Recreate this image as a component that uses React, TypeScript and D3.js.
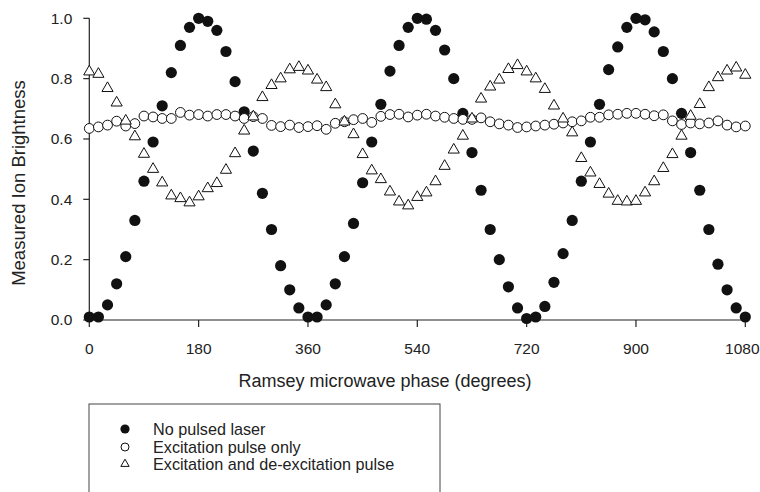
import * as d3 from 'd3';

// phase grid (degrees) of the measurement
const phases = [
  0, 15, 30, 45, 60, 75, 90, 105, 120, 135, 150, 165,
  180, 195, 210, 225, 240, 255, 270, 285, 300, 315, 330, 345,
  360, 375, 390, 405, 420, 435, 450, 465, 480, 495, 510, 525,
  540, 555, 570, 585, 600, 615, 630, 645, 660, 675, 690, 705,
  720, 735, 750, 765, 780, 795, 810, 825, 840, 855, 870, 885,
  900, 915, 930, 945, 960, 975, 990, 1005, 1020, 1035, 1050, 1065,
  1080,
];

const noPulsedLaser = [
  0.01, 0.01, 0.05, 0.12, 0.21, 0.33, 0.46, 0.59, 0.71, 0.82, 0.91, 0.97,
  1.0, 0.99, 0.96, 0.89, 0.79, 0.69, 0.56, 0.42, 0.3, 0.18, 0.1, 0.04,
  0.01, 0.01, 0.05, 0.12, 0.21, 0.32, 0.455, 0.59, 0.715, 0.825, 0.91, 0.97,
  1.0, 0.997, 0.96, 0.895, 0.8, 0.685, 0.555, 0.43, 0.3, 0.2, 0.11, 0.04,
  0.005, 0.01, 0.045, 0.125, 0.22, 0.33, 0.46, 0.59, 0.715, 0.83, 0.905, 0.97,
  1.0, 0.995, 0.955, 0.89, 0.8, 0.685, 0.555, 0.43, 0.3, 0.185, 0.1, 0.04,
  0.01,
];

const excitationOnly = [
  0.635, 0.64, 0.646, 0.659, 0.643, 0.651, 0.676, 0.673, 0.668, 0.668, 0.688, 0.679,
  0.681, 0.676, 0.681, 0.681, 0.676, 0.668, 0.674, 0.668, 0.645, 0.641, 0.646, 0.638,
  0.641, 0.644, 0.632, 0.652, 0.657, 0.664, 0.668, 0.655, 0.675, 0.681, 0.682, 0.673,
  0.679, 0.682, 0.676, 0.672, 0.668, 0.665, 0.665, 0.67, 0.657, 0.65, 0.646, 0.638,
  0.64, 0.643, 0.646, 0.649, 0.653, 0.657, 0.66, 0.672, 0.672, 0.68, 0.682, 0.685,
  0.685, 0.682, 0.677, 0.68, 0.66, 0.648, 0.653, 0.65, 0.653, 0.66, 0.646, 0.64,
  0.643,
];

const excitationDeexcitation = [
  0.823, 0.815, 0.768, 0.72, 0.66, 0.608, 0.55, 0.5, 0.455, 0.412, 0.403, 0.389,
  0.409, 0.436, 0.453, 0.497, 0.552, 0.627, 0.674, 0.738, 0.778, 0.8, 0.83, 0.838,
  0.826, 0.796, 0.771, 0.714, 0.657, 0.615, 0.549, 0.495, 0.466, 0.425, 0.392, 0.379,
  0.407, 0.422, 0.459, 0.51, 0.564, 0.61, 0.667, 0.733, 0.773, 0.796, 0.831, 0.844,
  0.823, 0.8, 0.765, 0.71, 0.667, 0.621, 0.536, 0.488, 0.45, 0.418, 0.394, 0.392,
  0.394, 0.422, 0.459, 0.503, 0.549, 0.61, 0.676, 0.715, 0.771, 0.804, 0.826, 0.836,
  0.812,
];

const xTicks = [0, 180, 360, 540, 720, 900, 1080];
const yTicks = [0, 0.2, 0.4, 0.6, 0.8, 1.0];

const legendLabels = [
  'No pulsed laser',
  'Excitation pulse only',
  'Excitation and de-excitation pulse',
];

const FONT = '"Liberation Sans", Arial, Helvetica, sans-serif';

export default function App() {
  const width = 760;
  const height = 492;
  const left = 89.3;
  const right = 745.3;
  const top = 18.3;
  const bottom = 320;

  const x = d3.scaleLinear().domain([0, 1080]).range([left, right]);
  const y = d3.scaleLinear().domain([0, 1]).range([bottom, top]);

  const tri = d3.symbol().type(d3.symbolTriangle).size(54)();
  const triSmall = d3.symbol().type(d3.symbolTriangle).size(30)();

  const legendY = [429, 447, 464];

  return (
    <svg
      width={width}
      height={height}
      style={{ position: 'absolute', left: 0, top: 0, background: '#fff' }}
      fontFamily={FONT}
    >
      {/* axes */}
      <line x1={left} x2={left} y1={top} y2={bottom} stroke="#222" strokeWidth={1.2} />
      <line x1={left} x2={right + 2} y1={bottom} y2={bottom} stroke="#222" strokeWidth={1.2} />

      {yTicks.map(t => (
        <g key={'y' + t}>
          <line x1={left - 6} x2={left} y1={y(t)} y2={y(t)} stroke="#222" strokeWidth={1.2} />
          <text x={left - 17} y={y(t)} dy="0.35em" textAnchor="end" fontSize={15.5} fill="#222">
            {t.toFixed(1)}
          </text>
        </g>
      ))}

      {xTicks.map(t => {
        const last = t === 1080;
        return (
          <g key={'x' + t}>
            <line x1={x(t)} x2={x(t)} y1={bottom} y2={bottom + 7} stroke="#222" strokeWidth={1.2} />
            <text
              x={last ? 759.5 : x(t)}
              y={349}
              dy="0.35em"
              textAnchor={last ? 'end' : 'middle'}
              fontSize={15.5}
              fill="#222"
            >
              {t}
            </text>
          </g>
        );
      })}

      <text
        transform={`translate(19,183) rotate(-90)`}
        textAnchor="middle"
        dy="0.35em"
        fontSize={18.5}
        fill="#222"
      >
        Measured Ion Brightness
      </text>
      <text x={385} y={381} dy="0.35em" textAnchor="middle" fontSize={18} fill="#222">
        Ramsey microwave phase (degrees)
      </text>

      {/* series */}
      {phases.map((p, i) => (
        <circle key={'f' + i} cx={x(p)} cy={y(noPulsedLaser[i])} r={5.6} fill="#111" />
      ))}
      {phases.map((p, i) => (
        <circle
          key={'o' + i}
          cx={x(p)}
          cy={y(excitationOnly[i])}
          r={4.9}
          fill="#fff"
          stroke="#111"
          strokeWidth={1}
        />
      ))}
      {phases.map((p, i) => (
        <path
          key={'t' + i}
          d={tri}
          transform={`translate(${x(p)},${y(excitationDeexcitation[i])})`}
          fill="#fff"
          stroke="#111"
          strokeWidth={1}
        />
      ))}

      {/* legend */}
      <rect x={89} y={404} width={351} height={120} fill="none" stroke="#444" strokeWidth={1} />
      <circle cx={125} cy={legendY[0]} r={4.6} fill="#111" />
      <circle cx={125} cy={legendY[1]} r={4} fill="#fff" stroke="#111" strokeWidth={1} />
      <path d={triSmall} transform={`translate(125,${legendY[2]})`} fill="#fff" stroke="#111" strokeWidth={1} />
      {legendLabels.map((l, i) => (
        <text key={l} x={153} y={legendY[i]} dy="0.35em" fontSize={16.2} fill="#222">
          {l}
        </text>
      ))}
    </svg>
  );
}
